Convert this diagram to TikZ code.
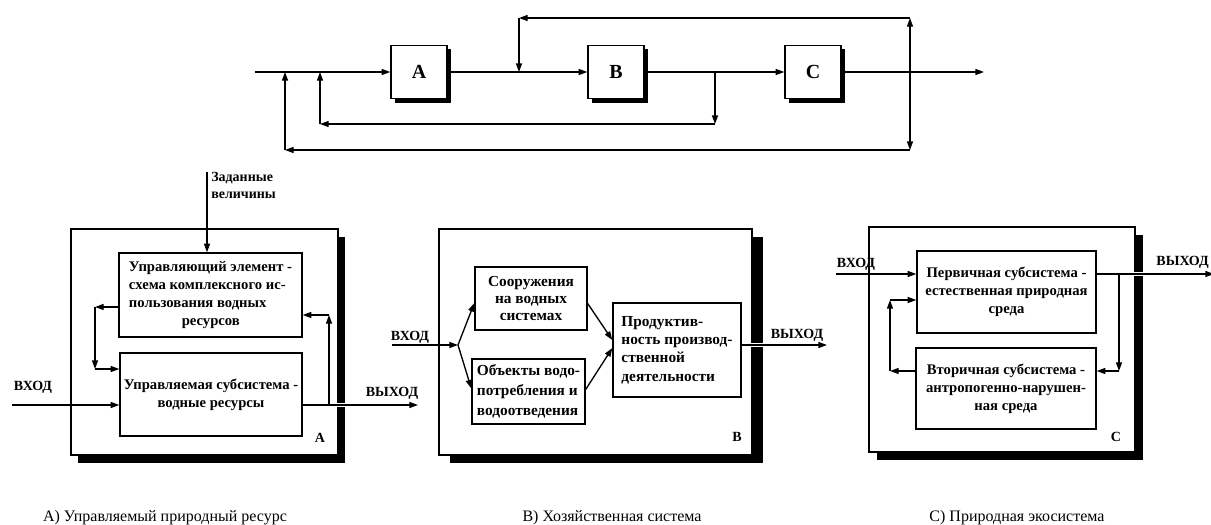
\documentclass[tikz,border=0pt]{standalone}
\usepackage{fontspec}
\setmainfont{Liberation Serif}
\usetikzlibrary{arrows.meta, positioning, shadows, calc}

\tikzset{
  ln/.style={line width=1pt},
  arr/.style={ln, -{Triangle[length=6.5pt,width=4.5pt]}},
  dbl/.style={ln, {Triangle[length=6.5pt,width=4.5pt]}-{Triangle[length=6.5pt,width=4.5pt]}},
  box/.style={draw, ln, fill=white, inner sep=0pt, align=center, font=\bfseries\fontsize{11}{13.5}\selectfont},
  abc/.style={box, minimum width=42pt, minimum height=40pt, font=\bfseries\fontsize{15}{15}\selectfont,
    drop shadow={shadow xshift=3pt, shadow yshift=-3pt, opacity=1, fill=black}},
  panel/.style={draw, ln, fill=white, drop shadow={shadow xshift=#1, shadow yshift=-6pt, opacity=1, fill=black}},
  lbl/.style={font=\bfseries\fontsize{10.5}{12.75}\selectfont, inner sep=0pt},
  captxt/.style={font=\fontsize{12}{14}\selectfont, inner sep=0pt},
  casing/.style={preaction={draw=white, line width=3.5pt, -, shorten <=2pt}}
}

\begin{document}
\begin{tikzpicture}[x=0.75pt, y=-0.75pt]
    \useasboundingbox (0,0) rectangle (1211,525);
    \clip (0,0) rectangle (1211,525);

    % TOP: chain A - B - C with feedbacks
    \coordinate (in) at (255,72);
    \node[abc] (A) at (419,72) {A};
    \node[abc] (B) at (616,72) {B};
    \node[abc] (C) at (813,72) {C};
    \coordinate (out) at (984,72);
    \draw[arr] (in) -- (A);
    \draw[arr] (A) -- (B);
    \draw[arr] (B) -- (C);
    \draw[arr] (C) -- (out);

    \coordinate (fbUp) at (910,18);
    \coordinate (fbDn) at (910,150);
    \draw[dbl] (fbDn) -- (fbUp);
    \coordinate (fbAB) at (519,18);
    \coordinate (jAB) at (519,72);
    \draw[arr] (fbUp) -- (fbAB);
    \draw[arr] (fbAB) -- (jAB);

    \coordinate (jB) at (715,72);
    \coordinate (l1r) at (715,124);
    \coordinate (l1l) at (320,124);
    \coordinate (j1) at (320,72);
    \draw[arr] (jB) -- (l1r);
    \draw[arr] (l1r) -- (l1l);
    \draw[arr] (l1l) -- (j1);

    \coordinate (l2l) at (285,150);
    \coordinate (j2) at (285,72);
    \draw[arr] (fbDn) -- (l2l);
    \draw[arr] (l2l) -- (j2);

    % PANEL A: controlled natural resource
    \node[panel=5.25pt, minimum width=200.25pt, minimum height=169.5pt] (pA) at (204.5,342) {};
    \node[box, minimum width=137.25pt, minimum height=63pt, align=left] (ctl) at (210.5,295)
        {Управляющий элемент -\\схема комплексного ис-\\пользования водных\\\hspace{3.6em}ресурсов};
    \node[box, minimum width=136.5pt, minimum height=62.25pt] (sub) at (211,394.5)
        {Управляемая субсистема -\\водные ресурсы};
    \coordinate (setp) at (207,172);
    \node[lbl, anchor=north west, align=left] (setl) at (211,172) {Заданные\\величины};
    \draw[arr] (setp) -- (setp |- ctl.north);

    \coordinate (la) at (95,307);
    \coordinate (lb) at (95,369);
    \draw[arr] (ctl.west |- la) -- (la);
    \draw[arr] (la) -- (lb);
    \draw[arr] (lb) -- (sub.west |- lb);

    \coordinate (inA) at (12,405);
    \coordinate (outA) at (418,405);
    \draw[arr] (inA) -- (sub.west |- inA);
    \draw[arr, casing] (sub.east |- outA) -- (outA);
    \coordinate (ra) at (329,405);
    \coordinate (rb) at (329,315);
    \draw[arr] (ra) -- (rb);
    \draw[arr] (rb) -- (ctl.east |- rb);

    \node[lbl] (inAl) at (33,387) {ВХОД};
    \node[lbl] (outAl) at (392,393) {ВЫХОД};
    \node[lbl] (tagA) at (320,438) {А};

    % PANEL B: economic system
    \node[panel=8.25pt, minimum width=234.75pt, minimum height=169.5pt] (pB) at (595.5,342) {};
    \node[box, minimum width=84pt, minimum height=47.25pt, font=\bfseries\fontsize{11.5}{12.75}\selectfont] (soor) at (531,298.5)
        {Сооружения\\на водных\\системах};
    \node[box, minimum width=84.75pt, minimum height=48.75pt, align=left, font=\bfseries\fontsize{11.5}{15}\selectfont] (obj) at (528.5,391.5)
        {Объекты водо-\\потребления и\\водоотведения};
    \node[box, minimum width=96pt, minimum height=70.5pt, align=left, font=\bfseries\fontsize{11.5}{13.75}\selectfont] (prod) at (677,350)
        {Продуктив-\\ность производ-\\ственной\\деятельности};

    \coordinate (inB) at (392,345);
    \coordinate (fork) at (458,345);
    \coordinate (outB) at (827,345);
    \draw[arr] (inB) -- (fork);
    \draw[arr] (fork) -- ($(soor.west)+(0,4.5)$);
    \draw[arr] (fork) -- ($(obj.west)+(0,-3)$);
    \draw[arr] ($(soor.east)+(0,5)$) -- ($(prod.west)+(0,-10)$);
    \draw[arr] ($(obj.east)+(0,-2)$) -- ($(prod.west)+(0,-2)$);
    \draw[arr, casing] (prod.east |- outB) -- (outB);

    \node[lbl] (inBl) at (410,337) {ВХОД};
    \node[lbl] (outBl) at (797,335) {ВЫХОД};
    \node[lbl] (tagB) at (737,437) {В};

    % PANEL C: natural ecosystem
    \node[panel=6pt, minimum width=199.5pt, minimum height=168.75pt] (pC) at (1002,339.5) {};
    \node[box, minimum width=134.25pt, minimum height=61.5pt] (prim) at (1006.5,292)
        {Первичная субсистема -\\естественная природная\\среда};
    \node[box, minimum width=135pt, minimum height=60.75pt] (sec) at (1006,388.5)
        {Вторичная субсистема -\\антропогенно-нарушен-\\ная среда};

    \coordinate (inC) at (836,274);
    \coordinate (outC) at (1214,274);
    \draw[arr] (inC) -- (prim.west |- inC);
    \draw[arr, casing] (prim.east |- outC) -- (outC);
    \coordinate (rc) at (1119,274);
    \coordinate (rd) at (1119,371);
    \draw[arr] (rc) -- (rd);
    \draw[arr] (rd) -- (sec.east |- rd);
    \coordinate (lc) at (890,371);
    \coordinate (ld) at (890,300);
    \draw[arr] (sec.west |- lc) -- (lc);
    \draw[arr] (lc) -- (ld);
    \draw[arr] (ld) -- (prim.west |- ld);

    \node[lbl] (inCl) at (856,264) {ВХОД};
    \node[lbl, anchor=east] (outCl) at (1209,262) {ВЫХОД};
    \node[lbl] (tagC) at (1116,437) {С};

    % captions
    \node[captxt, anchor=base] (capA) at (165,521) {А) Управляемый природный ресурс};
    \node[captxt, anchor=base] (capB) at (612,521) {В) Хозяйственная система};
    \node[captxt, anchor=base] (capC) at (1017,521) {С) Природная экосистема};
\end{tikzpicture}
\end{document}
